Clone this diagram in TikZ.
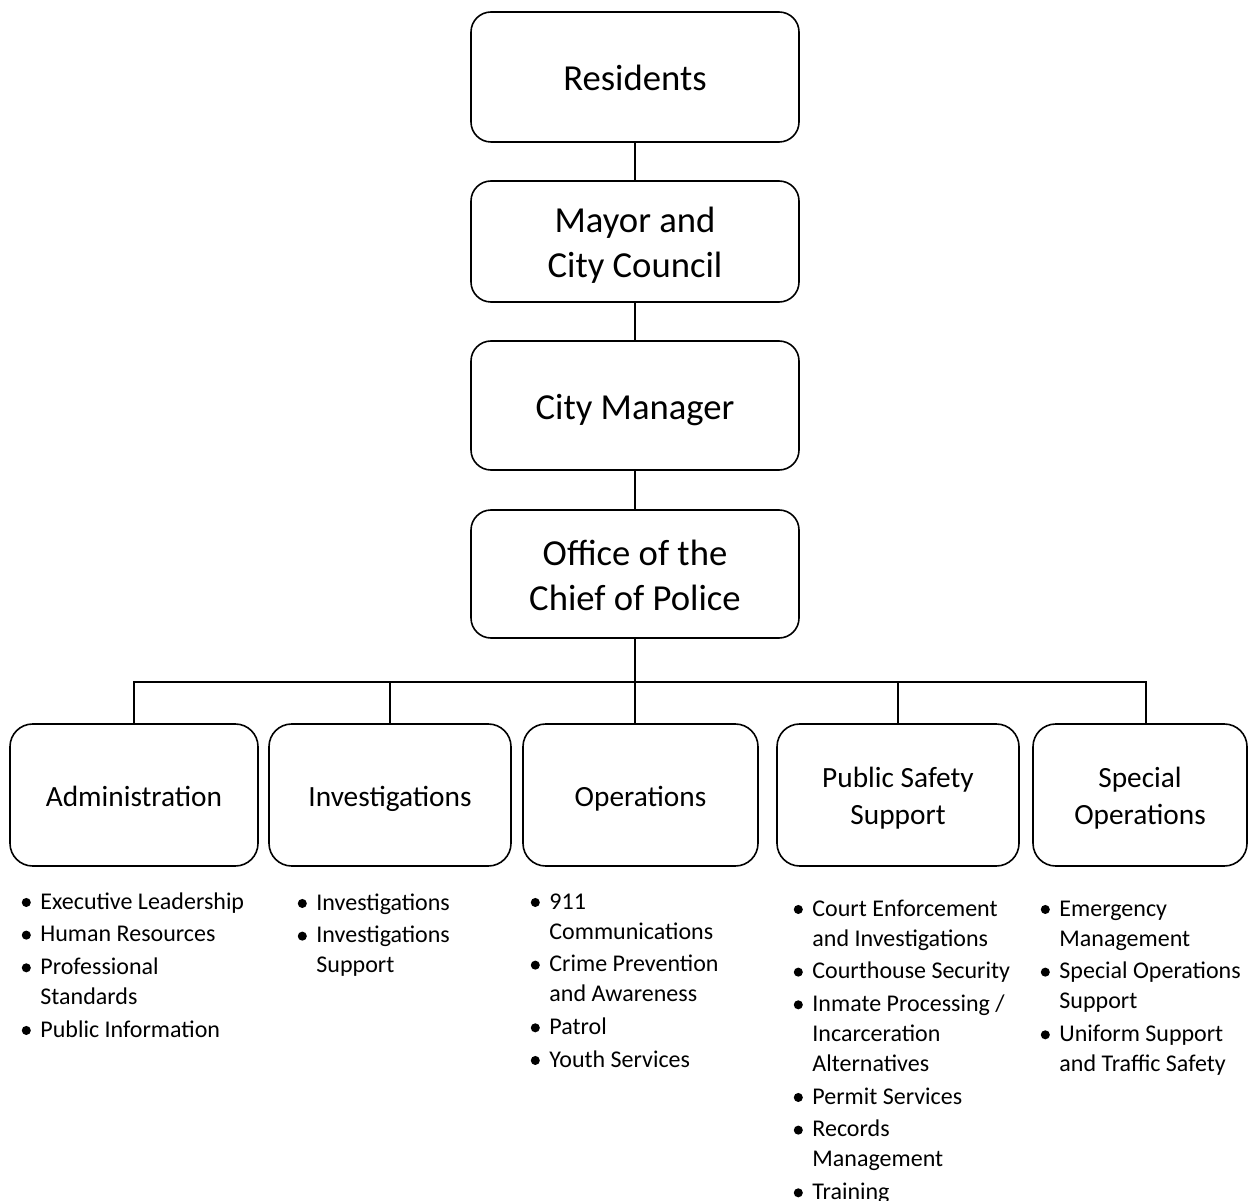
\documentclass[tikz,border=0pt]{standalone}
\usepackage{fontspec}
\setmainfont{Carlito}
\newcommand\pxu{0.75pt}
\newcommand\lbul{\makebox[14pt][l]{\tikz[baseline=0pt]\fill (3.4pt,4.9pt) circle[radius=3.4pt];}}
\newcommand\lind{\hspace*{14pt}}
\newcommand\li[1]{\hbox{#1}}
\newcommand\gap{\vskip 2pt}
\tikzset{
  topbox/.style={draw, line width=1.2pt, rounded corners=15pt, align=center,
    font=\fontsize{27.5}{33.75}\selectfont, inner sep=0pt, minimum width=328*\pxu,
    text depth=0pt},
  subbox/.style={draw, line width=1.2pt, rounded corners=17pt, align=center,
    font=\fontsize{22}{27.75}\selectfont, minimum height=142*\pxu, inner sep=0pt,
    text depth=0pt},
  blist/.style={anchor=base west, inner sep=0pt,
    font=\fontsize{18}{22.5}\selectfont},
  conn/.style={line width=1.2pt}
}
\begin{document}
\begin{tikzpicture}[x=0.75pt, y=-0.75pt]
\useasboundingbox (0,0) rectangle (1248,1201);
% top chain
\node[topbox, minimum height=130*\pxu, text height=20.5pt] (res) at (635,77) {Residents};
\node[topbox, minimum height=121*\pxu, text height=54pt] (mayor) at (635,241.5) {Mayor and\\City Council};
\node[topbox, minimum height=129*\pxu, text height=20.5pt] (cm) at (635,405.5) {City Manager};
\node[topbox, minimum height=128*\pxu, text height=55pt] (chief) at (635,574) {Office of the\\Chief of Police};
\draw[conn] (res.south) -- (mayor.north);
\draw[conn] (mayor.south) -- (cm.north);
\draw[conn] (cm.south) -- (chief.north);
% divisions
\node[subbox, minimum width=248*\pxu, text height=17pt] (admin) at (134,795) {Administration};
\node[subbox, minimum width=242*\pxu, text height=17pt] (inv) at (390,795) {Investigations};
\node[subbox, minimum width=235*\pxu, text height=17pt] (ops) at (640.5,795) {Operations};
\node[subbox, minimum width=242*\pxu, text height=44pt] (pss) at (898,795) {Public Safety\\Support};
\node[subbox, minimum width=214*\pxu, text height=44pt] (spec) at (1140,795) {Special\\Operations};
\coordinate (bus) at (635,682);
\draw[conn] (chief.south) -- (bus);
\draw[conn] (admin.north) |- (bus);
\draw[conn] (inv.north) |- (bus);
\draw[conn] (bus) -- (bus |- ops.north);
\draw[conn] (pss.north) |- (bus);
\draw[conn] ([xshift=6*\pxu]spec.north) |- (bus);
% lists
\node[blist] (ladmin) at (21.5,909) {\vtop{%
\li{\lbul Executive Leadership}\gap
\li{\lbul Human Resources}\gap
\li{\lbul Professional}
\li{\lind Standards}\gap
\li{\lbul Public Information}}};
\node[blist] (linv) at (297.5,910) {\vtop{%
\li{\lbul Investigations}\gap
\li{\lbul Investigations}
\li{\lind Support}}};
\node[blist] (lops) at (530.5,909) {\vtop{%
\li{\lbul 911}
\li{\lind Communications}\gap
\li{\lbul Crime Prevention}
\li{\lind and Awareness}\gap
\li{\lbul Patrol}\gap
\li{\lbul Youth Services}}};
\node[blist] (lpss) at (793.5,916) {\vtop{%
\li{\lbul Court Enforcement}
\li{\lind and Investigations}\gap
\li{\lbul Courthouse Security}\gap
\li{\lbul Inmate Processing /}
\li{\lind Incarceration}
\li{\lind Alternatives}\gap
\li{\lbul Permit Services}\gap
\li{\lbul Records}
\li{\lind Management}\gap
\li{\lbul Training}}};
\node[blist] (lspec) at (1040.5,916) {\vtop{%
\li{\lbul Emergency}
\li{\lind Management}\gap
\li{\lbul Special Operations}
\li{\lind Support}\gap
\li{\lbul Uniform Support}
\li{\lind and Traffic Safety}}};
\end{tikzpicture}
\end{document}
